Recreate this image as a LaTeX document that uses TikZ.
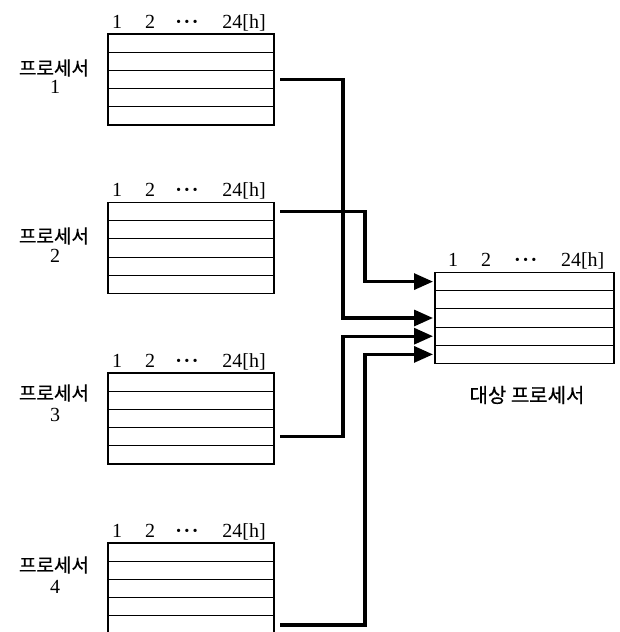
\documentclass[tikz,border=0pt]{standalone}
\usepackage{fontspec}
\setmainfont{Liberation Serif}
\newfontfamily\kr{Noto Sans CJK KR}[FakeBold=0.5]
\usetikzlibrary{calc,arrows.meta}
\newcommand\proctable[5]{% name, cx, cy, width, header offset
  \node[tbl, minimum width=#4] (#1) at (#2,#3) {};
  \foreach \k in {1,...,4}
    \draw[rowline] ($(#1.north west)!\k/5!(#1.south west)$) -- ($(#1.north east)!\k/5!(#1.south east)$);
  \foreach \k/\f in {1/0.1,2/0.3,3/0.5,4/0.7,5/0.9}{
    \coordinate (#1w\k) at ($(#1.north west)!\f!(#1.south west)$);
    \coordinate (#1e\k) at ($(#1.north east)!\f!(#1.south east)$);
  }
  \node[hd] (#1ha) at ($(#1.north west)+(9+#5,-6)$) {1};
  \node[hd] (#1hb) at ($(#1.north west)+(42+#5,-6)$) {2};
  \node[hd] (#1hc) at ($(#1.north west)+(79+#5*1.3,-6)$) {\textbf{·\hspace{1.5pt}·\hspace{1.5pt}·}};
  \node[hd] (#1hd) at ($(#1.north west)+(136+#5*1.3,-6)$) {24[h]};
}
\begin{document}
\begin{tikzpicture}[x=1pt,y=-1pt,
  tbl/.style={draw, line width=1.3pt, minimum height=91pt, inner sep=0pt, outer sep=0pt},
  rowline/.style={line width=1.1pt},
  hd/.style={font=\fontsize{20}{22}\selectfont, anchor=base, inner sep=0pt},
  lbl/.style={font=\kr\fontsize{19}{22}\selectfont, inner sep=0pt},
  num/.style={font=\fontsize{20}{22}\selectfont, inner sep=0pt},
  conn/.style={line width=3.2pt, -{Triangle[length=19pt,width=16pt]}, line join=miter}]
\useasboundingbox (0,0) rectangle (620,632);
\clip (0,0) rectangle (620,632);

\proctable{pa}{191}{79.5}{166pt}{0}
\proctable{pb}{191}{248}{166pt}{0}
\proctable{pc}{191}{418.5}{166pt}{0}
\proctable{pd}{191}{588.5}{166pt}{0}
\proctable{tg}{524.5}{318}{179pt}{9}

\node[lbl] (la) at (54,68) {프로세서};
\node[num] (na) at (55,87) {1};
\node[lbl] (lb) at (54,236) {프로세서};
\node[num] (nb) at (55,256) {2};
\node[lbl] (lc) at (54,393) {프로세서};
\node[num] (nc) at (55,415) {3};
\node[lbl] (ld) at (54,565) {프로세서};
\node[num] (nd) at (55,587) {4};
\node[lbl, font=\kr\fontsize{20}{22}\selectfont] (tl) at (527,395) {대상 프로세서};

\draw[conn] ([xshift=6pt]pae3) -| ([xshift=-92pt]tgw3) -- ([xshift=-2pt]tgw3);
\draw[conn] ([xshift=6pt]pbe1) -| ([xshift=-70pt]tgw1) -- ([xshift=-2pt]tgw1);
\draw[conn] ([xshift=6pt]pce4) -| ([xshift=-92pt]tgw4) -- ([xshift=-2pt]tgw4);
\draw[conn] ([xshift=6pt]pde5) -| ([xshift=-70pt]tgw5) -- ([xshift=-2pt]tgw5);
\end{tikzpicture}
\end{document}
